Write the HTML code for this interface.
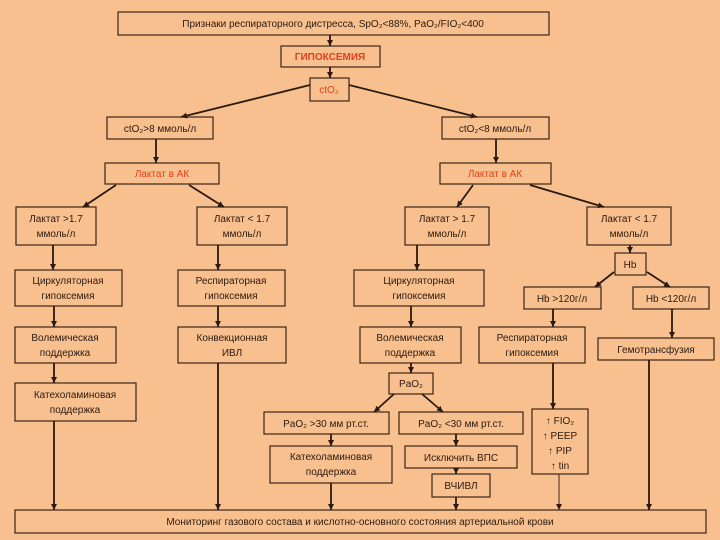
<!DOCTYPE html>
<html><head><meta charset="utf-8"><style>
html,body{margin:0;padding:0;background:#f9c08f;}
svg{display:block}
text{font-family:"Liberation Sans",sans-serif;font-size:10px;fill:#2a1a10;text-anchor:middle;}
.r{fill:#e0401c}
rect{fill:none;stroke:#3a2418;stroke-width:1.2}
line{stroke:#2a1a10;stroke-width:1.8}
.t{stroke-width:0.9}
</style></head><body>
<svg width="720" height="540" viewBox="0 0 720 540">
<defs><marker id="a" markerWidth="8" markerHeight="8" refX="6" refY="3" orient="auto" markerUnits="userSpaceOnUse"><path d="M0,0 L6,3 L0,6 z" fill="#2a1a10"/></marker></defs>
<rect width="720" height="540" style="fill:#f9c08f;stroke:none"/>
<!-- boxes -->
<rect x="118" y="12" width="431" height="23"/><text x="333" y="27">Признаки респираторного дистресса, SpO₂&lt;88%, PaO₂/FIO₂&lt;400</text>
<rect x="281" y="46" width="99" height="21"/><text class="r" x="330" y="60" font-weight="bold">ГИПОКСЕМИЯ</text>
<rect x="310" y="78" width="39" height="23"/><text class="r" x="329" y="93">ctO₂</text>
<rect x="107" y="117" width="106" height="22"/><text x="160" y="132">ctO₂&gt;8 ммоль/л</text>
<rect x="442" y="117" width="107" height="22"/><text x="495" y="132">ctO₂&lt;8 ммоль/л</text>
<rect x="105" y="163" width="114" height="21"/><text class="r" x="162" y="177">Лактат в АК</text>
<rect x="440" y="163" width="111" height="21"/><text class="r" x="495" y="177">Лактат в АК</text>
<rect x="16" y="207" width="80" height="38"/><text x="56" y="222">Лактат &gt;1.7</text><text x="56" y="237">ммоль/л</text>
<rect x="197" y="207" width="90" height="38"/><text x="242" y="222">Лактат &lt; 1.7</text><text x="242" y="237">ммоль/л</text>
<rect x="405" y="207" width="84" height="38"/><text x="447" y="222">Лактат &gt; 1.7</text><text x="447" y="237">ммоль/л</text>
<rect x="587" y="207" width="84" height="38"/><text x="629" y="222">Лактат &lt; 1.7</text><text x="629" y="237">ммоль/л</text>
<rect x="615" y="253" width="31" height="22"/><text x="630" y="268">Hb</text>
<rect x="524" y="287" width="77" height="22"/><text x="562" y="302">Hb &gt;120г/л</text>
<rect x="633" y="287" width="76" height="22"/><text x="671" y="302">Hb &lt;120г/л</text>
<rect x="15" y="270" width="107" height="36"/><text x="68" y="284">Циркуляторная</text><text x="68" y="299">гипоксемия</text>
<rect x="178" y="270" width="107" height="36"/><text x="231" y="284">Респираторная</text><text x="231" y="299">гипоксемия</text>
<rect x="354" y="270" width="130" height="36"/><text x="419" y="284">Циркуляторная</text><text x="419" y="299">гипоксемия</text>
<rect x="15" y="327" width="101" height="36"/><text x="65" y="341">Волемическая</text><text x="65" y="356">поддержка</text>
<rect x="178" y="327" width="108" height="36"/><text x="232" y="341">Конвекционная</text><text x="232" y="356">ИВЛ</text>
<rect x="360" y="327" width="101" height="36"/><text x="410" y="341">Волемическая</text><text x="410" y="356">поддержка</text>
<rect x="479" y="327" width="106" height="36"/><text x="532" y="341">Респираторная</text><text x="532" y="356">гипоксемия</text>
<rect x="598" y="338" width="116" height="22"/><text x="656" y="353">Гемотрансфузия</text>
<rect x="15" y="383" width="121" height="38"/><text x="75" y="398">Катехоламиновая</text><text x="75" y="413">поддержка</text>
<rect x="389" y="373" width="44" height="21"/><text x="411" y="387">PaO₂</text>
<rect x="264" y="412" width="125" height="22"/><text x="326" y="427">PaO₂ &gt;30 мм рт.ст.</text>
<rect x="399" y="412" width="124" height="22"/><text x="461" y="427">PaO₂ &lt;30 мм рт.ст.</text>
<rect x="532" y="409" width="56" height="65"/><text x="560" y="424">↑ FIO₂</text><text x="560" y="439">↑ PEEP</text><text x="560" y="454">↑ PIP</text><text x="560" y="469">↑ tin</text>
<rect x="270" y="446" width="122" height="37"/><text x="331" y="460">Катехоламиновая</text><text x="331" y="475">поддержка</text>
<rect x="405" y="446" width="112" height="22"/><text x="461" y="461">Исключить ВПС</text>
<rect x="432" y="474" width="58" height="23"/><text x="461" y="489">ВЧИВЛ</text>
<rect x="15" y="510" width="691" height="23"/><text x="360" y="525">Мониторинг газового состава и кислотно-основного состояния артериальной крови</text>
<!-- arrows -->
<g marker-end="url(#a)">
<line x1="330" y1="35" x2="330" y2="46"/>
<line x1="330" y1="67" x2="330" y2="78"/>
<line x1="310" y1="85" x2="181" y2="117"/>
<line x1="349" y1="85" x2="477" y2="117"/>
<line x1="156" y1="139" x2="156" y2="163"/>
<line x1="496" y1="139" x2="496" y2="163"/>
<line x1="116" y1="185" x2="83" y2="207"/>
<line x1="189" y1="185" x2="224" y2="207"/>
<line x1="473" y1="185" x2="457" y2="207"/>
<line x1="530" y1="185" x2="604" y2="207"/>
<line x1="53" y1="245" x2="53" y2="270"/>
<line x1="218" y1="245" x2="218" y2="270"/>
<line x1="417" y1="245" x2="417" y2="270"/>
<line x1="630" y1="245" x2="630" y2="253"/>
<line x1="614" y1="272" x2="595" y2="287"/>
<line x1="647" y1="272" x2="670" y2="287"/>
<line x1="54" y1="306" x2="54" y2="327"/>
<line x1="218" y1="306" x2="218" y2="327"/>
<line x1="411" y1="306" x2="411" y2="327"/>
<line x1="553" y1="309" x2="553" y2="327"/>
<line x1="672" y1="309" x2="672" y2="338"/>
<line x1="54" y1="363" x2="54" y2="383"/>
<line x1="411" y1="363" x2="411" y2="373"/>
<line x1="553" y1="363" x2="553" y2="409"/>
<line x1="394" y1="394" x2="374" y2="412"/>
<line x1="422" y1="394" x2="443" y2="412"/>
<line x1="331" y1="434" x2="331" y2="446"/>
<line x1="456" y1="434" x2="456" y2="446"/>
<line x1="456" y1="468" x2="456" y2="474"/>
<line x1="54" y1="421" x2="54" y2="510"/>
<line x1="218" y1="363" x2="218" y2="510"/>
<line x1="331" y1="483" x2="331" y2="510"/>
<line x1="456" y1="497" x2="456" y2="510"/>
<line class="t" x1="559" y1="474" x2="559" y2="510"/>
<line x1="649" y1="360" x2="649" y2="510"/>
</g>
</svg>
</body></html>
